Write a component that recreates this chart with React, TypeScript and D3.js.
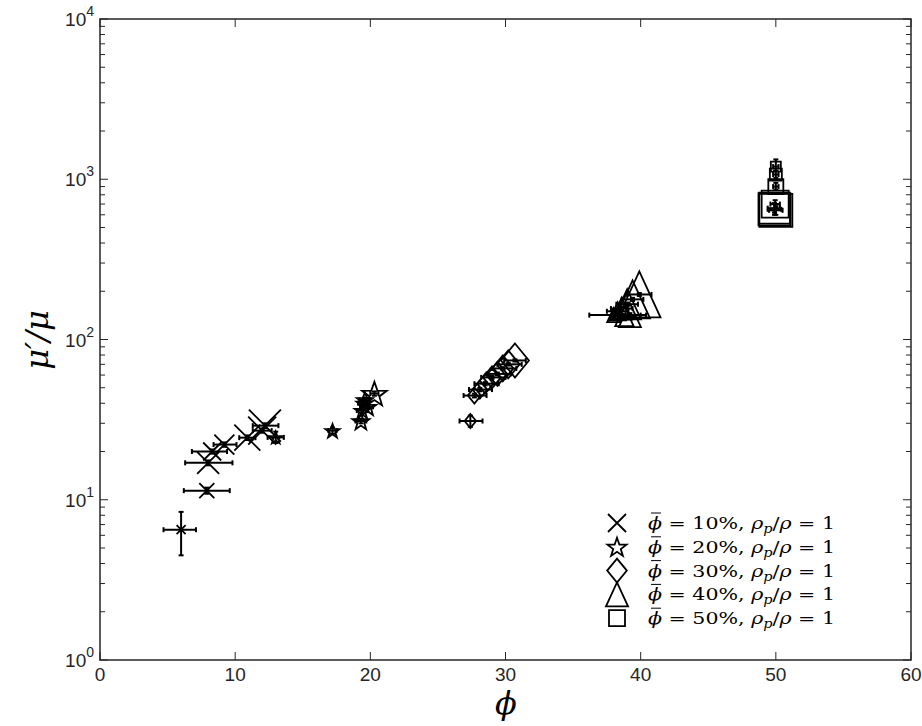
import React from "react";
import * as d3 from "d3";

// ---- data (phi in %, relative viscosity mu'/mu) ----
const phi10 = [6.0, 7.9, 8.0, 8.3, 9.2, 10.9, 12.0, 12.2];
const mu10 = [6.5, 11.4, 17.0, 20.0, 22.1, 24.4, 27.0, 29.0];
const xLo10 = [4.7, 6.2, 6.3, 6.8, 8.4, 10.3, 11.3, 11.3];
const xHi10 = [7.1, 9.6, 9.8, 9.4, 10.1, 11.5, 12.7, 13.2];
const yLo10 = [4.5, 10.9, 16.4, 19.4, 21.4, 23.6, 26.2, 28.0];
const yHi10 = [8.4, 11.9, 17.6, 20.6, 22.8, 25.2, 27.8, 30.0];

const phi20 = [13.0, 17.2, 19.3, 19.4, 19.5, 19.6, 19.8, 20.3];
const mu20 = [24.5, 27.0, 31.0, 36.0, 40.0, 42.0, 38.0, 46.0];
const xLo20 = [12.4, 16.9, 18.9, 19.0, 19.1, 19.2, 19.4, 20.0];
const xHi20 = [13.6, 17.5, 19.7, 19.8, 19.9, 20.0, 20.2, 20.6];
const yLo20 = [22.6, 25.8, 30.0, 34.8, 38.8, 40.8, 36.8, 44.6];
const yHi20 = [26.6, 28.2, 32.0, 37.2, 41.2, 43.2, 39.2, 47.4];

const phi30 = [27.4, 27.7, 28.1, 28.5, 29.0, 29.4, 29.8, 30.2, 30.7];
const mu30 = [31, 44.7, 48.7, 53, 58, 61, 66, 70, 74];
const xLo30 = [26.6, 26.9, 27.3, 27.7, 28.2, 28.6, 29.0, 29.4, 29.9];
const xHi30 = [28.3, 28.6, 29.0, 29.5, 30.0, 30.4, 30.8, 31.2, 31.5];
const yLo30 = [28.5, 43.5, 47.5, 51.8, 56.8, 59.8, 64.8, 68.8, 72.8];
const yHi30 = [33.5, 45.9, 49.9, 54.2, 59.2, 62.2, 67.2, 71.2, 75.2];

const phi40 = [38.0, 38.3, 38.6, 38.8, 39.0, 39.2, 39.4, 39.9];
const mu40 = [142, 150, 156, 140, 166, 142, 178, 191];
const xLo40 = [36.2, 37.5, 37.8, 38.0, 38.2, 38.4, 38.6, 39.0];
const xHi40 = [40.4, 39.1, 39.4, 39.6, 39.8, 40.0, 40.2, 40.8];
const yLo40 = [136, 146, 152, 136, 162, 138, 174, 187];
const yHi40 = [148, 154, 160, 144, 170, 146, 182, 195];

const phi50 = [49.9, 49.9, 50.0, 49.95, 50.0, 50.0, 50.0];
const mu50 = [649, 660, 640, 700, 900, 1070, 1200];
const xLo50 = [49.4, 49.4, 49.5, 49.6, 49.8, 49.8, 49.8];
const xHi50 = [50.4, 50.3, 50.5, 50.3, 50.2, 50.2, 50.2];
const yLo50 = [600, 620, 600, 660, 860, 1020, 1130];
const yHi50 = [700, 710, 680, 740, 950, 1130, 1330];

const legendLabels = ["10%", "20%", "30%", "40%", "50%"];
const xTicks = [0, 10, 20, 30, 40, 50, 60];
const yDecades = [0, 1, 2, 3, 4];

// ---- styles (marker pixel sizes) ----
const size10 = [9, 15, 22, 18, 20, 26, 28, 32];
const size20 = [13, 15, 18, 16, 15, 17, 18, 26];
const size30 = [14, 16, 18, 20, 22, 24, 26, 28, 34];
const size40 = [14, 18, 22, 20, 30, 24, 38, 46];
const size50 = [32, 31, 33, 27, 15, 12, 10];

const W = 922, H = 726;
const L = 100, R = 911, T = 19, B = 660;
const AX = "#262626";
const SANS = "Liberation Sans, Arial, sans-serif";
const SERIF = "DejaVu Serif, serif";

type Kind = "x" | "star" | "diamond" | "tri" | "square";

function markerPath(kind: Kind, s: number): string {
  const h = s / 2;
  if (kind === "x") return `M${-h},${-h}L${h},${h}M${-h},${h}L${h},${-h}`;
  if (kind === "diamond") {
    const hw = h * 0.82, hh = h;
    return `M0,${-hh}L${hw},0L0,${hh}L${-hw},0Z`;
  }
  if (kind === "tri") return `M0,${-h}L${h * 0.92},${h}L${-h * 0.92},${h}Z`;
  if (kind === "square") return `M${-h},${-h}L${h},${-h}L${h},${h}L${-h},${h}Z`;
  const ro = h, ri = h * 0.4;
  let d = "";
  for (let i = 0; i < 10; i++) {
    const r = i % 2 === 0 ? ro : ri;
    const a = -Math.PI / 2 + (i * Math.PI) / 5;
    d += (i === 0 ? "M" : "L") + (r * Math.cos(a)).toFixed(2) + "," + (r * Math.sin(a) + h * 0.1).toFixed(2);
  }
  return d + "Z";
}

export default function App() {
  const x = d3.scaleLinear().domain([0, 60]).range([L, R]);
  const y = d3.scaleLog().domain([1, 1e4]).range([B, T]);

  const series: { kind: Kind; px: number[]; py: number[]; xl: number[]; xh: number[]; yl: number[]; yh: number[]; sz: number[] }[] = [
    { kind: "x", px: phi10, py: mu10, xl: xLo10, xh: xHi10, yl: yLo10, yh: yHi10, sz: size10 },
    { kind: "star", px: phi20, py: mu20, xl: xLo20, xh: xHi20, yl: yLo20, yh: yHi20, sz: size20 },
    { kind: "diamond", px: phi30, py: mu30, xl: xLo30, xh: xHi30, yl: yLo30, yh: yHi30, sz: size30 },
    { kind: "tri", px: phi40, py: mu40, xl: xLo40, xh: xHi40, yl: yLo40, yh: yHi40, sz: size40 },
    { kind: "square", px: phi50, py: mu50, xl: xLo50, xh: xHi50, yl: yLo50, yh: yHi50, sz: size50 },
  ];

  const minor: number[] = [];
  for (let d = 0; d < 4; d++) for (let m = 2; m <= 9; m++) minor.push(m * Math.pow(10, d));

  const cap = 2.5;
  const kinds: Kind[] = ["x", "star", "diamond", "tri", "square"];
  const legendSizes = [18, 20, 24, 24, 16];

  return (
    <svg width={W} height={H} style={{ position: "absolute", left: 0, top: 0, background: "#fff" }}>
      <rect x={0} y={0} width={W} height={H} fill="#fff" />
      {series.map((s, si) => (
        <g key={si}>
          {s.px.map((p, i) => {
            const cx = x(p), cy = y(s.py[i]);
            const x1 = x(s.xl[i]), x2 = x(s.xh[i]);
            const y1 = y(s.yl[i]), y2 = y(s.yh[i]);
            return (
              <g key={i}>
                <g stroke="#000" strokeWidth={2} fill="none">
                  <line x1={x1} x2={x2} y1={cy} y2={cy} />
                  <line x1={x1} x2={x1} y1={cy - cap} y2={cy + cap} />
                  <line x1={x2} x2={x2} y1={cy - cap} y2={cy + cap} />
                  <line x1={cx} x2={cx} y1={y1} y2={y2} />
                  <line x1={cx - cap} x2={cx + cap} y1={y1} y2={y1} />
                  <line x1={cx - cap} x2={cx + cap} y1={y2} y2={y2} />
                </g>
                <path d={markerPath(s.kind, s.sz[i])} transform={`translate(${cx},${cy})`} fill="none" stroke="#000" strokeWidth={1.8} />
              </g>
            );
          })}
        </g>
      ))}

      <rect x={L} y={T} width={R - L} height={B - T} fill="none" stroke={AX} strokeWidth={1.5} />
      {xTicks.map((t) => (
        <g key={"xt" + t}>
          <line x1={x(t)} x2={x(t)} y1={B} y2={B - 8} stroke={AX} strokeWidth={1} />
          <line x1={x(t)} x2={x(t)} y1={T} y2={T + 8} stroke={AX} strokeWidth={1} />
          <text x={x(t)} y={B + 21} textAnchor="middle" fontFamily={SANS} fontSize={19} fill={AX}>{t}</text>
        </g>
      ))}
      {yDecades.map((d) => (
        <g key={"yd" + d}>
          <line x1={L} x2={L + 8} y1={y(Math.pow(10, d))} y2={y(Math.pow(10, d))} stroke={AX} strokeWidth={1} />
          <line x1={R} x2={R - 8} y1={y(Math.pow(10, d))} y2={y(Math.pow(10, d))} stroke={AX} strokeWidth={1} />
          <text x={L - 6} y={y(Math.pow(10, d)) + 7} textAnchor="end" fontFamily={SANS} fontSize={19} fill={AX}>
            10<tspan dy={-10} fontSize={14}>{d}</tspan>
          </text>
        </g>
      ))}
      {minor.map((v) => (
        <g key={"ym" + v}>
          <line x1={L} x2={L + 5} y1={y(v)} y2={y(v)} stroke={AX} strokeWidth={1} />
          <line x1={R} x2={R - 5} y1={y(v)} y2={y(v)} stroke={AX} strokeWidth={1} />
        </g>
      ))}

      <text x={506} y={714} textAnchor="middle" fontFamily="DejaVu Serif, serif" fontStyle="italic" fontSize={32} fill="#000">ϕ</text>
      <text transform="translate(48,340) rotate(-90)" textAnchor="middle" fontFamily="DejaVu Serif, serif" fontStyle="italic" fontSize={32} fill="#000">μ′/μ</text>

      {legendLabels.map((lab, i) => {
        const ly = 523 + i * 23.8;
        return (
          <g key={"lg" + i}>
            <path d={markerPath(kinds[i], legendSizes[i])} transform={`translate(617,${ly})`} fill="none" stroke="#000" strokeWidth={1.8} />
            <line x1={651} x2={661} y1={ly - 10} y2={ly - 10} stroke="#000" strokeWidth={1} />
            <text x={648} y={ly + 6} fontFamily={SERIF} fontSize={17} fill="#000" textLength={187} lengthAdjust="spacingAndGlyphs">
              <tspan fontStyle="italic">ϕ</tspan>
              <tspan>{" = " + lab + ", "}</tspan>
              <tspan fontStyle="italic">ρ</tspan>
              <tspan fontStyle="italic" fontSize={12} dy={4}>p</tspan>
              <tspan dy={-4}>/</tspan>
              <tspan fontStyle="italic">ρ</tspan>
              <tspan>{" = 1"}</tspan>
            </text>
          </g>
        );
      })}
    </svg>
  );
}
